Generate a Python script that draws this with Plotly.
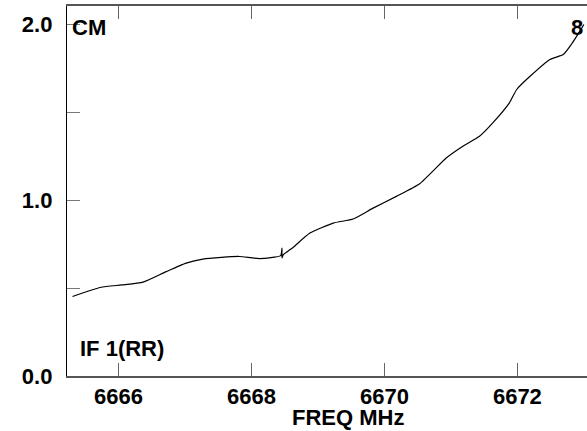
import plotly.graph_objects as go

# spectrum
freq = [6665.31, 6665.74, 6666.05, 6666.37, 6666.72, 6667.02, 6667.27, 6667.55,
        6667.82, 6668.12, 6668.44, 6668.46, 6668.46, 6668.48, 6668.63, 6668.88,
        6669.23, 6669.53, 6669.83, 6670.18, 6670.53, 6670.93, 6671.18, 6671.43,
        6671.63, 6671.88, 6671.99, 6672.19, 6672.49, 6672.69, 6672.81, 6672.94,
        6673.00]
amp = [0.452, 0.505, 0.518, 0.534, 0.594, 0.642, 0.665, 0.675,
       0.680, 0.668, 0.685, 0.728, 0.672, 0.690, 0.733, 0.813,
       0.870, 0.893, 0.955, 1.022, 1.094, 1.240, 1.307, 1.364,
       1.440, 1.554, 1.630, 1.705, 1.801, 1.829, 1.886, 1.962,
       2.000]

ytick_vals = [0, 0.5, 1.0, 1.5, 2.0]
ytick_text = ["0.0", "", "1.0", "", "2.0"]
xtick_vals = [6666, 6668, 6670, 6672]

fig = go.Figure()
fig.add_trace(go.Scatter(x=freq, y=amp, mode="lines",
                         line=dict(color="black", width=1.2, shape="spline", smoothing=0.5),
                         showlegend=False, hoverinfo="skip"))

font = dict(family="Liberation Sans, Arial, sans-serif", size=22, color="black", weight="bold")

fig.update_layout(
    width=587, height=431,
    margin=dict(l=67, r=0, t=6, b=55),
    paper_bgcolor="white", plot_bgcolor="white",
    font=font,
    xaxis=dict(range=[6665.227, 6673.047], tickvals=xtick_vals, automargin=False,
               ticks="inside", ticklen=13, tickcolor="#666", tickwidth=1.2,
               showline=True, linecolor="#555", linewidth=1.5, mirror="ticks",
               showgrid=False, zeroline=False, tickfont=font),
    yaxis=dict(range=[0, 2.105], tickvals=ytick_vals, ticktext=ytick_text, automargin=False,
               ticks="inside", ticklen=13, tickcolor="#777", tickwidth=1.2,
               showline=True, linecolor="black", linewidth=1.3,
               showgrid=False, zeroline=False, tickfont=font,
               ticklabelstandoff=9),
    annotations=[
        dict(text="CM", xref="paper", yref="paper", x=0.006, y=0.943,
             xanchor="left", yanchor="middle", showarrow=False, font=font),
        dict(text="8", xref="paper", yref="paper", x=0.966, y=0.943,
             xanchor="left", yanchor="middle", showarrow=False, font=font),
        dict(text="IF 1(RR)", xref="paper", yref="paper", x=0.022, y=0.073,
             xanchor="left", yanchor="middle", showarrow=False, font=font),
        dict(text="FREQ MHz", xref="paper", yref="paper", x=0.540, y=-0.111,
             xanchor="center", yanchor="middle", showarrow=False, font=font),
    ],
)

# the page's default 8px body margin would push the figure off the window
fig.write_html("out.html", config={"displayModeBar": False},
               post_script="document.body.style.margin='0';")
